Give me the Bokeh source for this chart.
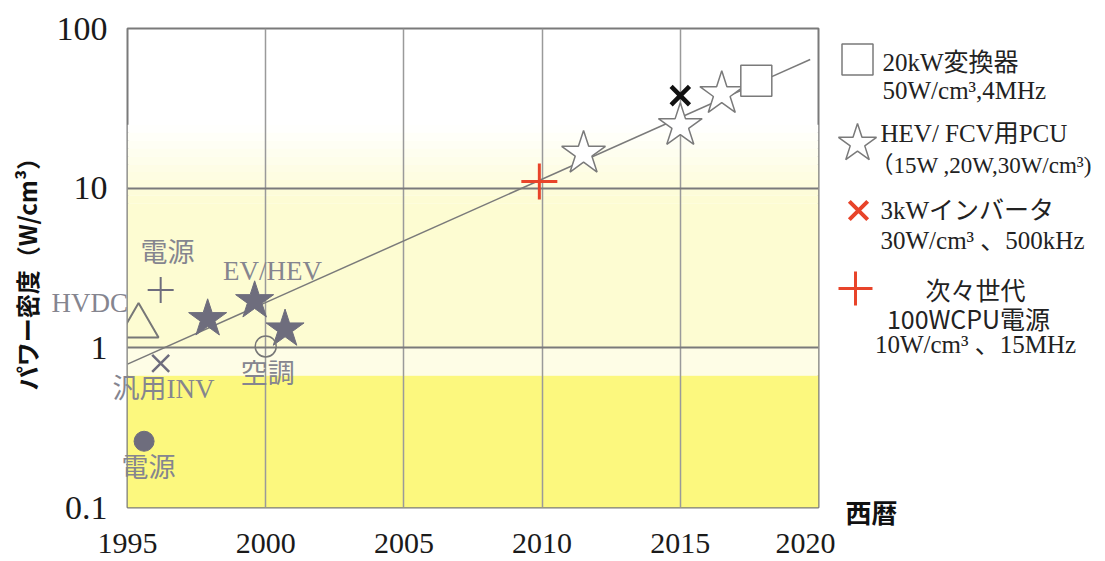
import math
from bokeh.plotting import figure
from bokeh.models import Range1d, FixedTicker, NumeralTickFormatter, Label, GridBox
from bokeh.embed import file_html
from bokeh.resources import INLINE

# ---- data -------------------------------------------------------------
# 電源 (+)
psu_year = [1996.2]
psu_val = [2.3]
# HVDC (open triangle)
hvdc_year = [1995.4]
hvdc_val = [1.37]
# EV/HEV (filled stars)
ev_year = [1997.9, 1999.6, 2000.7]
ev_val = [1.52, 1.97, 1.31]
# 空調 (open circle)
ac_year = [2000.0]
ac_val = [1.02]
# 汎用INV (x)
inv_year = [1996.2]
inv_val = [0.80]
# 電源 (filled circle)
psu2_year = [1995.6]
psu2_val = [0.26]
# 次々世代 100WCPU電源 (red +)
cpu_year = [2009.9]
cpu_val = [11.0]
# HEV/FCV用PCU (open stars)
pcu_year = [2011.5, 2015.0, 2016.5]
pcu_val = [16.5, 24.6, 39.0]
# 3kWインバータ (black x)
inv3k_year = [2015.0]
inv3k_val = [38.0]
# 20kW変換器 (open square)
conv_year = [2017.75]
conv_val = [47.0]
# trend line
trend_year = [1995.0, 2019.7]
trend_val = [0.79, 64.0]

x_ticks = [1995, 2000, 2005, 2010, 2015, 2020]
y_ticks = [0.1, 1, 10, 100]

# annotation labels beside the early data points
ann_text = ["電源", "HVDC", "EV/HEV", "汎用INV", "空調", "電源"]
ann_x = [1996.45, 1993.63, 2000.25, 1996.30, 2000.07, 1995.76]
ann_y = [3.90, 1.90, 3.05, 0.55, 0.69, 0.176]

SERIF = "'Liberation Serif', 'Noto Sans CJK JP', serif"
SANS_JP = "'Noto Sans CJK JP', sans-serif"
GRAY_TXT = "#85858f"
GRAY_MK = "#6e6d7d"
RED = "#e8442a"

# ---- page geometry ----------------------------------------------------
W_MAIN, H = 835, 561
B_LEFT, B_RIGHT, B_TOP, B_BOTTOM = 127, 17, 28, 54
X0, X1 = 1995, 2020
Y0, Y1 = 0.1, 100

# ---- main chart -------------------------------------------------------
p = figure(width=W_MAIN, height=H, x_range=Range1d(X0, X1),
           y_range=Range1d(Y0, Y1), y_axis_type="log",
           output_backend="svg", toolbar_location=None,
           min_border_left=B_LEFT, min_border_right=B_RIGHT,
           min_border_top=B_TOP, min_border_bottom=B_BOTTOM)
p.background_fill_color = "white"
p.border_fill_color = "white"
p.outline_line_color = "#7a7a7a"
p.outline_line_width = 2

# background shading bands
band_edges = []
band_cols = []
band_edges.append((0.1, 0.67)); band_cols.append("#fcf87e")
band_edges.append((0.67, 1.0)); band_cols.append("#fefde6")
band_edges.append((1.0, 8.0)); band_cols.append("#fdfcd2")
steps = 10
lo, hi = math.log10(8.0), math.log10(25.0)
c0 = (0xfd, 0xfc, 0xd2)
for i in range(steps):
    a = lo + (hi - lo) * i / steps
    b = lo + (hi - lo) * (i + 1) / steps
    t = (i + 0.5) / steps
    col = tuple(round(c0[k] + (255 - c0[k]) * t) for k in range(3))
    band_edges.append((10 ** a, 10 ** b))
    band_cols.append("#%02x%02x%02x" % col)
p.quad(left=[X0] * len(band_edges), right=[X1] * len(band_edges),
       bottom=[e[0] for e in band_edges], top=[e[1] for e in band_edges],
       fill_color=band_cols, line_color=None, level="image")

# grid
p.xgrid.ticker = FixedTicker(ticks=[2000, 2005, 2010, 2015])
p.xgrid.grid_line_color = "#9a9a9a"
p.xgrid.grid_line_width = 1.5
p.ygrid.ticker = FixedTicker(ticks=[1, 10])
p.ygrid.grid_line_color = "#7a7a7a"
p.ygrid.grid_line_width = 2

# axes
for ax in (p.xaxis, p.yaxis):
    ax.axis_line_color = None
    ax.major_tick_line_color = None
    ax.minor_tick_line_color = None
    ax.major_label_text_font = "Liberation Serif"
    ax.major_label_text_color = "#1a1a1a"
p.xaxis.ticker = FixedTicker(ticks=x_ticks)
p.xaxis.major_label_text_font_size = "30px"
p.xaxis.major_label_standoff = 20
p.xaxis.formatter = NumeralTickFormatter(format="0")
p.yaxis.ticker = FixedTicker(ticks=y_ticks)
p.yaxis.major_label_text_font_size = "34px"
p.yaxis.major_label_standoff = 14
p.yaxis.formatter = NumeralTickFormatter(format="0.[0]")
p.yaxis.axis_label = "パワー密度（W/cm³）"
p.yaxis.axis_label_text_font = SANS_JP
p.yaxis.axis_label_text_font_size = "24px"
p.yaxis.axis_label_text_font_style = "bold"
p.yaxis.axis_label_text_color = "#111111"
p.yaxis.axis_label_standoff = 10

# trend line
p.line(trend_year, trend_val, line_color="#7a7a7a", line_width=1.5)

# early devices (grey)
p.scatter(psu_year, psu_val, marker="cross", size=26, line_color=GRAY_MK, line_width=2)
p.scatter(hvdc_year, hvdc_val, marker="triangle", size=40, line_color="#777777",
          fill_color=None, line_width=2)
p.scatter(ev_year, ev_val, marker="star", size=40, fill_color=GRAY_MK,
          line_color=GRAY_MK)
p.scatter(ac_year, ac_val, marker="circle", size=21, line_color="#777777",
          fill_color=None, line_width=1.5)
p.scatter(inv_year, inv_val, marker="x", size=24, line_color=GRAY_MK, line_width=2.5)
p.scatter(psu2_year, psu2_val, marker="circle", size=20, fill_color=GRAY_MK,
          line_color=GRAY_MK)

# recent devices
p.scatter(cpu_year, cpu_val, marker="cross", size=36, line_color=RED, line_width=3)
p.scatter(pcu_year, pcu_val, marker="star", size=46, fill_color="white",
          line_color="#7a7a7a", line_width=1.5)
p.scatter(inv3k_year, inv3k_val, marker="x", size=26, line_color="#111111", line_width=4.5)
p.scatter(conv_year, conv_val, marker="square", size=31, fill_color="white",
          line_color="#7a7a7a", line_width=1.5)

# ---- transparent text layer over the main chart ------------------------
# Its frame covers the whole canvas, with ranges chosen so that data
# coordinates land exactly where they do in the chart underneath; labels
# may therefore run past the chart's frame.
ppx = (W_MAIN - B_LEFT - B_RIGHT) / (X1 - X0)
ppd = (H - B_TOP - B_BOTTOM) / (math.log10(Y1) - math.log10(Y0))
ov = figure(width=W_MAIN, height=H,
            x_range=Range1d(X0 - B_LEFT / ppx, X1 + B_RIGHT / ppx),
            y_range=Range1d(10 ** (math.log10(Y0) - B_BOTTOM / ppd),
                            10 ** (math.log10(Y1) + B_TOP / ppd)),
            y_axis_type="log", output_backend="svg", toolbar_location=None,
            min_border=0, min_border_left=0, min_border_right=0,
            min_border_top=0, min_border_bottom=0)
ov.frame_align = False
ov.axis.visible = False
ov.grid.visible = False
ov.outline_line_color = None
ov.background_fill_color = None
ov.border_fill_color = None

for t, x, y in zip(ann_text, ann_x, ann_y):
    ov.add_layout(Label(x=x, y=y, text=t, text_font=SERIF, text_font_size="27px",
                        text_color=GRAY_TXT, text_align="center",
                        text_baseline="middle"))

# ---- legend panel -----------------------------------------------------
lg = figure(width=1105 - W_MAIN, height=H, x_range=Range1d(W_MAIN, 1105),
            y_range=Range1d(H, 0), output_backend="svg", toolbar_location=None,
            min_border=0, min_border_left=0, min_border_right=0,
            min_border_top=0, min_border_bottom=0)
lg.frame_align = False
lg.axis.visible = False
lg.grid.visible = False
lg.outline_line_color = None
lg.background_fill_color = "white"
lg.border_fill_color = "white"

lg.scatter([857], [59], marker="square", size=31, fill_color="white",
           line_color="#7a7a7a", line_width=1.5)
lg.scatter([857], [143], marker="star", size=40, fill_color="white",
           line_color="#7a7a7a", line_width=1.5)
lg.scatter([858], [210], marker="x", size=26, line_color=RED, line_width=4)
lg.scatter([855], [288], marker="cross", size=34, line_color=RED, line_width=3)

legend_lines = [
    ("20kW変換器", 882, 62, "left", SERIF, "25px"),
    ("50W/cm³,4MHz", 882, 90, "left", SERIF, "25px"),
    ("HEV/  FCV用PCU", 880, 133, "left", SERIF, "25px"),
    ("（15W ,20W,30W/cm³)", 870, 165, "left", SERIF, "23px"),
    ("3kWインバータ", 880, 210, "left", SERIF, "25px"),
    ("30W/cm³ 、500kHz", 880, 240, "left", SERIF, "25px"),
    ("次々世代", 975, 288, "center", SANS_JP, "25px"),
    ("100WCPU電源", 968, 317, "center", SANS_JP, "25px"),
    ("10W/cm³ 、15MHz", 975, 344, "center", SERIF, "25px"),
]
for t, x, y, al, fnt, fs in legend_lines:
    lg.add_layout(Label(x=x, y=y, text=t, text_font=fnt, text_font_size=fs,
                        text_color="#222222", text_align=al, text_baseline="middle"))

lg.add_layout(Label(x=871, y=511, text="西暦", text_font=SANS_JP,
                    text_font_size="26px", text_font_style="bold",
                    text_color="#111111", text_align="center", text_baseline="middle"))

layout = GridBox(children=[(p, 0, 0), (ov, 0, 0), (lg, 0, 1)])
open("out.html", "w").write(file_html(layout, INLINE))
